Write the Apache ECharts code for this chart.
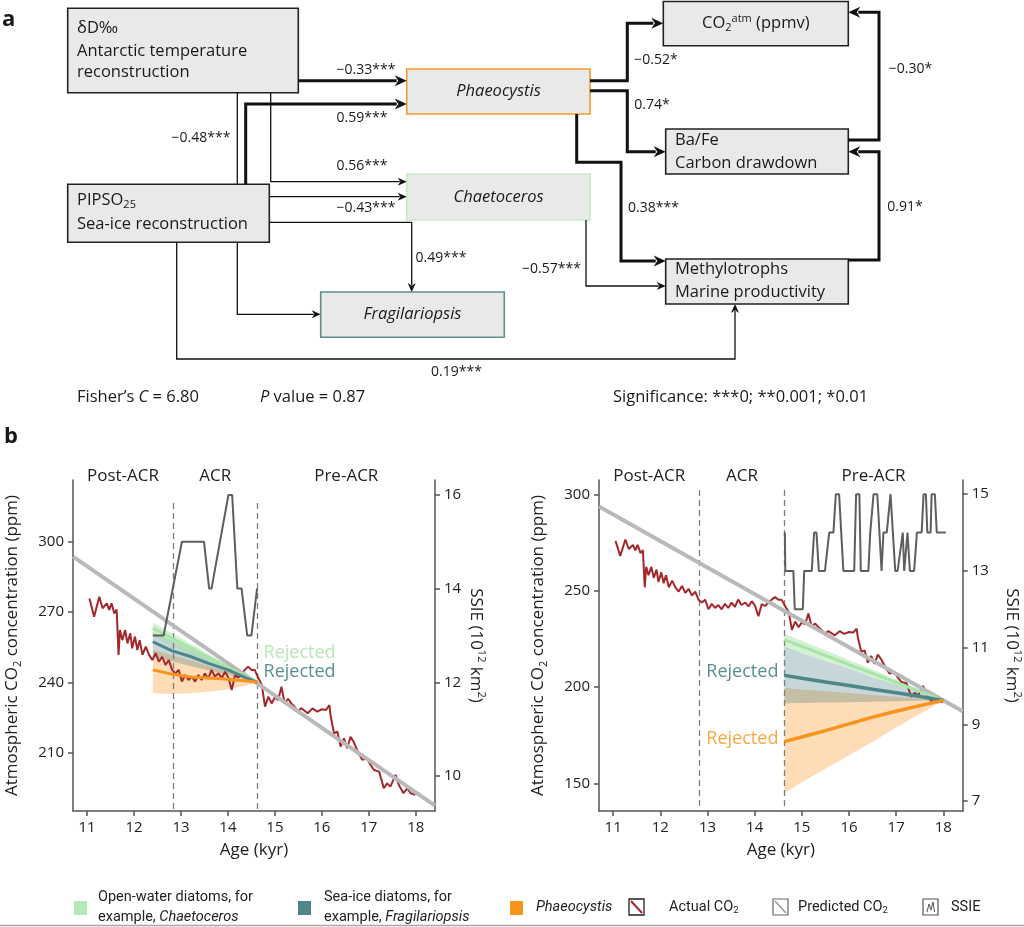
<!DOCTYPE html>
<html><head><meta charset="utf-8">
<script src="https://cdn.jsdelivr.net/npm/echarts@6/dist/echarts.min.js"></script>
<style>html,body{margin:0;padding:0;background:#fff}#c{width:1024px;height:927px}</style>
</head><body><div id="c"></div><script>
// ---------------- DATA ----------------
const ageTicks = [11, 12, 13, 14, 15, 16, 17, 18];
const co2TicksLeft = [210, 240, 270, 300];
const ssieTicksLeft = [10, 12, 14, 16];
const co2TicksRight = [150, 200, 250, 300];
const ssieTicksRight = [7, 9, 11, 13, 15];
const regionNames = ['Post-ACR', 'ACR', 'Pre-ACR'];
const regionBounds = [10.7, 12.83, 14.63, 18.41];

// actual CO2 record [age kyr, ppm]
const actualCO2 = [
 [11.05,275.8],[11.15,268],[11.26,276.5],[11.33,271.6],[11.42,273.7],[11.47,270.9],[11.52,273.7],[11.58,269.4],
 [11.63,271],[11.67,251.7],[11.70,262.3],[11.75,258],[11.81,262.3],[11.86,256.6],[11.92,260.9],[11.96,254.5],
 [12.02,259.5],[12.07,253.8],[12.12,258],[12.18,251.7],[12.25,255.2],[12.32,251.7],[12.39,249.5],[12.46,252.4],
 [12.53,248.8],[12.60,250.9],[12.67,247.4],[12.74,249.5],[12.81,245.3],[12.88,243.8],[12.95,245.3],[13.02,240.3],
 [13.09,243.1],[13.16,241],[13.23,242.5],[13.30,240.3],[13.37,243.1],[13.44,241],[13.51,243.8],[13.58,241.5],
 [13.65,245.3],[13.72,242.5],[13.80,243.8],[13.87,241.8],[13.94,244.5],[14.01,242],[14.08,236.7],[14.15,243],
 [14.22,242],[14.29,243.8],[14.36,245.3],[14.43,246.7],[14.50,245.3],[14.57,245.3],[14.65,241.7],[14.72,239],
 [14.79,229.6],[14.86,233.9],[14.93,231],[15.00,233.5],[15.07,232.5],[15.14,238.1],[15.21,231],[15.28,233],
 [15.35,231],[15.42,229.5],[15.49,227.5],[15.56,229],[15.70,226.8],[15.80,228.9],[15.90,227.5],[16.00,228.5],
 [16.09,228.2],[16.16,230.3],[16.19,225.4],[16.26,218.2],[16.33,219],[16.40,212.6],[16.47,216.1],[16.54,211.9],
 [16.61,216.8],[16.68,214.5],[16.75,211.1],[16.86,206.9],[16.96,207.6],[17.04,204.7],[17.11,202.6],[17.22,201.9],
 [17.32,194.8],[17.39,196.9],[17.46,195.5],[17.57,200.5],[17.64,196.2],[17.74,192.7],[17.82,194.8],[17.89,192.7],[17.99,192]
];
// predicted CO2 (straight regression line)
const predictedCO2 = [[10.7, 293.6], [18.41, 187.4]];

// SSIE (10^12 km2)
const ssieLeft = [[12.4,13],[12.63,13],[13.02,15],[13.49,15],[13.60,14],[13.65,14],[13.83,15],[13.87,15],
 [14.01,16],[14.09,16],[14.20,14],[14.29,14],[14.41,13],[14.50,13],[14.62,14]];
const ssieRight = [[14.64,14],[14.65,13],[14.82,13],[14.85,12],[15.02,12],[15.05,13],[15.21,13],[15.26,14],[15.31,14],
 [15.36,13],[15.49,13],[15.58,14],[15.67,14],[15.72,15],[15.79,15],[15.88,13],[16.11,13],[16.15,15],[16.22,15],
 [16.25,13],[16.41,13],[16.45,14],[16.52,15],[16.60,15],[16.69,13],[16.73,14],[16.80,14],[16.88,15],[16.98,13],
 [17.03,13],[17.14,14],[17.17,13],[17.24,14],[17.29,13],[17.38,13],[17.44,14],[17.54,14],[17.58,15],[17.63,15],
 [17.66,14],[17.73,14],[17.75,15],[17.82,15],[17.86,14],[18.05,14]];

// model predictions, left panel (post-ACR scenario)
const leftModelAge = [12.4, 12.8, 13.2, 13.6, 14.0, 14.4, 14.63];
const openLineL = [263, 258.9, 254.8, 250.6, 246.4, 242.2, 240];
const openHiL   = [265.5, 261.1, 256.5, 252, 247.5, 243, 240];
const openLoL   = [259.5, 255.8, 252, 248.2, 244.5, 241.4, 240];
const seaLineL  = [257.3, 253.5, 251, 248, 245.3, 241.8, 240];
const seaHiL    = [261.5, 258, 254, 250, 246.3, 242.3, 240];
const seaLoL    = [251, 249, 247, 245, 243.3, 241, 240];
const phaeoLineL= [245.3, 243.5, 242.3, 241.8, 241.3, 240.6, 240];
const phaeoHiL  = [254, 251.5, 249.5, 247, 244.5, 241.5, 240];
const phaeoLoL  = [235.3, 235, 235.3, 236, 237, 238.6, 240];

// model predictions, right panel (pre-ACR scenario)
const rightModelAge = [14.63, 15, 15.5, 16, 16.5, 17, 17.5, 18];
const openLineR = [224.4, 221, 216.3, 211.6, 207, 202.3, 197.7, 193];
const openHiR   = [227.5, 224, 219, 214, 209, 204, 198.5, 193];
const openLoR   = [220, 217.5, 213.5, 209.5, 205, 200.5, 197, 193];
const seaLineR  = [206, 204.5, 202.6, 200.7, 198.8, 197, 195, 193];
const seaHiR    = [221, 217.5, 213.5, 209.5, 205, 201, 197, 193];
const seaLoR    = [191.5, 191.7, 191.9, 192.1, 192.3, 192.5, 192.8, 193];
const phaeoLineR= [171.6, 174, 177.3, 180.8, 184.3, 187.4, 190.3, 193];
const phaeoHiR  = [199.5, 198.7, 197.8, 196.8, 195.8, 194.9, 193.9, 193];
const phaeoLoR  = [145, 150.5, 157.5, 164.5, 171.5, 179, 186, 193];

// ---------------- STYLE ----------------
const FONT = '"Open Sans", "Noto Sans", sans-serif';
const LFONT = 'Roboto, sans-serif';
const C = {
  red: '#a3282c', pred: '#b9b9b9', ssie: '#5e5e5e',
  green: '#a8e4a8', teal: '#4c8688', orange: '#f7931e',
  greenBand: 'rgba(150,225,150,0.42)', tealBand: 'rgba(70,120,130,0.30)', orangeBand: 'rgba(252,178,90,0.45)'
};
const ageMin = 10.7, ageMax = 18.41;

const pairs = (xs, ys) => xs.map((x, i) => [x, ys[i]]);
const tri = (xs, lo, hi) => xs.map((x, i) => [x, lo[i], hi[i]]);

function bandSeries(name, gi, yi, rows, color, z) {
  return {
    name, type: 'custom', xAxisIndex: gi, yAxisIndex: yi, z, silent: true,
    data: rows, encode: { x: 0, y: [1, 2] },
    renderItem: (params, api) => {
      if (params.dataIndex !== 0) return;
      const top = rows.map(r => api.coord([r[0], r[2]]));
      const bot = rows.map(r => api.coord([r[0], r[1]])).reverse();
      return { type: 'polygon', shape: { points: top.concat(bot) }, style: { fill: color } };
    }
  };
}
function lineSeries(name, gi, yi, data, color, width, z, extra) {
  return Object.assign({
    name, type: 'line', xAxisIndex: gi, yAxisIndex: yi, data, showSymbol: false, symbol: 'none',
    lineStyle: { color, width }, itemStyle: { color }, z, silent: true, animation: false
  }, extra || {});
}
// "Rejected" tag anchored on a model point
function rejMark(x, y, pos, color, offset) {
  return { markPoint: { silent: true, symbol: 'circle', symbolSize: 0,
    data: [{ coord: [x, y], value: 0 }],
    label: { show: true, position: pos, distance: 6, offset, formatter: 'Rejected',
      fontSize: 18, fontFamily: FONT, color } } };
}

function xAxisCfg(gi) {
  return {
    gridIndex: gi, type: 'value', min: ageMin, max: ageMax,
    name: 'Age (kyr)', nameLocation: 'middle', nameGap: 31,
    nameTextStyle: { fontSize: 17, color: '#222', fontFamily: FONT },
    axisLine: { onZero: false, lineStyle: { color: '#555', width: 1.5 } },
    axisTick: { show: true, customValues: ageTicks, length: 5, lineStyle: { color: '#555', width: 1.5 } },
    axisLabel: { customValues: ageTicks, fontSize: 15, color: '#222', margin: 9, fontFamily: FONT },
    splitLine: { show: false }
  };
}
function yAxisCfg(gi, pos, min, max, ticks, name, nameGap, rot) {
  return {
    gridIndex: gi, type: 'value', position: pos, min, max,
    name, nameLocation: 'middle', nameGap, nameRotate: rot,
    nameTextStyle: { fontSize: 17, color: '#222', fontFamily: FONT, lineHeight: 22,
      rich: { s: { fontSize: 11, lineHeight: 11, verticalAlign: 'bottom', fontFamily: FONT, color: '#222' },
              p: { fontSize: 11, lineHeight: 11, verticalAlign: 'top', fontFamily: FONT, color: '#222' } } },
    axisLine: { show: true, onZero: false, lineStyle: { color: '#555', width: 1.5 } },
    axisTick: { show: true, customValues: ticks, length: 5, lineStyle: { color: '#555', width: 1.5 } },
    axisLabel: { customValues: ticks, fontSize: 15, color: '#222', margin: 9, fontFamily: FONT },
    splitLine: { show: false }
  };
}

const co2Name = 'Atmospheric CO{s|2} concentration (ppm)';
const ssieName = 'SSIE (10{p|12} km{p|2})';

function regionMarks(dashTop, yBottom) {
  return {
    markArea: {
      silent: true, itemStyle: { color: 'rgba(0,0,0,0)' },
      label: { show: true, position: 'top', distance: -5, fontSize: 17, color: '#222', fontFamily: FONT },
      data: regionNames.map((n, i) => [{ name: n, xAxis: regionBounds[i] }, { xAxis: regionBounds[i + 1] }])
    },
    markLine: {
      silent: true, symbol: 'none', label: { show: false },
      lineStyle: { color: '#7d7d7d', width: 1.3, type: [6, 4] },
      data: [1, 2].map(i => [{ coord: [regionBounds[i], dashTop] }, { coord: [regionBounds[i], yBottom] }])
    }
  };
}

const nL = leftModelAge.length - 1;
const series = [
  // ---- left panel ----
  bandSeries('Phaeocystis band L', 0, 0, tri(leftModelAge, phaeoLoL, phaeoHiL), C.orangeBand, 2),
  bandSeries('Sea-ice band L', 0, 0, tri(leftModelAge, seaLoL, seaHiL), C.tealBand, 3),
  bandSeries('Open-water band L', 0, 0, tri(leftModelAge, openLoL, openHiL), C.greenBand, 4),
  lineSeries('Actual CO2 L', 0, 0, actualCO2, C.red, 2, 5, regionMarks(316.5, 185.1)),
  lineSeries('Predicted CO2 L', 0, 0, predictedCO2, C.pred, 4, 6),
  lineSeries('Open-water L', 0, 0, pairs(leftModelAge, openLineL), C.green, 3, 7,
    rejMark(leftModelAge[nL], openLineL[nL], 'right', '#b8e8b8', [0, -29])),
  lineSeries('Sea-ice L', 0, 0, pairs(leftModelAge, seaLineL), C.teal, 3, 7,
    rejMark(leftModelAge[nL], seaLineL[nL], 'right', '#5a8f91', [0, -10])),
  lineSeries('Phaeocystis L', 0, 0, pairs(leftModelAge, phaeoLineL), C.orange, 3, 7),
  lineSeries('SSIE L', 0, 1, ssieLeft, C.ssie, 2, 8),
  // ---- right panel ----
  bandSeries('Phaeocystis band R', 1, 2, tri(rightModelAge, phaeoLoR, phaeoHiR), C.orangeBand, 2),
  bandSeries('Sea-ice band R', 1, 2, tri(rightModelAge, seaLoR, seaHiR), C.tealBand, 3),
  bandSeries('Open-water band R', 1, 2, tri(rightModelAge, openLoR, openHiR), C.greenBand, 4),
  lineSeries('Actual CO2 R', 1, 2, actualCO2, C.red, 2, 5, regionMarks(302.2, 135.6)),
  lineSeries('Predicted CO2 R', 1, 2, predictedCO2, C.pred, 4, 6),
  lineSeries('Open-water R', 1, 2, pairs(rightModelAge, openLineR), C.green, 3, 7),
  lineSeries('Sea-ice R', 1, 2, pairs(rightModelAge, seaLineR), C.teal, 3.5, 7,
    rejMark(rightModelAge[0], seaLineR[0], 'left', '#5a8f91', [0, -3])),
  lineSeries('Phaeocystis R', 1, 2, pairs(rightModelAge, phaeoLineR), C.orange, 3.5, 7,
    rejMark(rightModelAge[0], phaeoLineR[0], 'left', '#f5a940', [0, -3])),
  lineSeries('SSIE R', 1, 3, ssieRight, C.ssie, 2, 8)
];

// ---------------- DIAGRAM (panel a) ----------------
const subRich = {
  s: { fontSize: 11, lineHeight: 11, verticalAlign: 'bottom', fontFamily: FONT, fill: '#1a1a1a' },
  p: { fontSize: 11, lineHeight: 11, verticalAlign: 'top', fontFamily: FONT, fill: '#1a1a1a' },
  i: { fontStyle: 'italic', fontSize: 16.5, fontFamily: FONT, fill: '#1a1a1a' }
};
function txt(x, y, text, o) {
  return { type: 'text', x, y, z: 20, silent: true,
    style: Object.assign({ text, fill: '#1a1a1a', fontSize: 16.5, fontFamily: FONT,
      align: 'left', verticalAlign: 'middle', lineHeight: 20, rich: subRich }, o || {}) };
}
function box(x1, y1, x2, y2, stroke) {
  return { type: 'rect', z: 10, silent: true, shape: { x: x1, y: y1, width: x2 - x1, height: y2 - y1 },
    style: { fill: '#e9e9e9', stroke: stroke || '#222', lineWidth: 1.6 } };
}
function conn(pts, thick, arrow) {
  const w = thick ? 3 : 1.3;
  const p = pts.map(q => q.slice());
  const out = [];
  if (arrow !== false) {
    const n = p.length, x2 = p[n - 1][0], y2 = p[n - 1][1], x1 = p[n - 2][0], y1 = p[n - 2][1];
    const L = Math.hypot(x2 - x1, y2 - y1), ux = (x2 - x1) / L, uy = (y2 - y1) / L;
    const al = thick ? 12 : 9, ah = thick ? 5.5 : 4;
    const bx = x2 - ux * al, by = y2 - uy * al;
    out.push({ type: 'polygon', z: 15, silent: true,
      shape: { points: [[x2, y2], [bx - uy * ah, by + ux * ah], [x2 - ux * al * 0.7, y2 - uy * al * 0.7], [bx + uy * ah, by - ux * ah]] },
      style: { fill: '#111' } });
    p[n - 1] = [x2 - ux * (al - 2), y2 - uy * (al - 2)];
  }
  out.unshift({ type: 'polyline', z: 14, silent: true, shape: { points: p },
    style: { stroke: '#111', lineWidth: w, fill: null, lineJoin: 'miter' } });
  return out;
}

const g = [];
g.push(txt(2, 20, 'a', { fontWeight: 'bold', fontSize: 22 }));
g.push(txt(4, 437, 'b', { fontWeight: 'bold', fontSize: 22 }));
// boxes
g.push(box(67.7, 8.3, 298.3, 92.7));
g.push(box(406.7, 69, 590, 114, '#f39a2c'));
g.push(box(406.7, 174, 590, 220, '#c5ebc5'));
g.push(box(67.7, 184.3, 269.3, 242.3));
g.push(box(320.7, 292, 504.3, 337.3, '#5e8f8f'));
g.push(box(663.3, 1.5, 848.3, 45.7));
g.push(box(665.7, 129, 848.3, 174));
g.push(box(665.7, 259, 848.3, 304));
// box texts
g.push(txt(77, 28, 'δD‰'));
g.push(txt(77, 51.5, 'Antarctic temperature'));
g.push(txt(77, 72.5, 'reconstruction'));
g.push(txt(498.5, 91.5, 'Phaeocystis', { align: 'center', fontStyle: 'italic' }));
g.push(txt(498.5, 197, 'Chaetoceros', { align: 'center', fontStyle: 'italic' }));
g.push(txt(77, 200, 'PIPSO{s|25}'));
g.push(txt(77, 224.5, 'Sea-ice reconstruction'));
g.push(txt(412.5, 314.5, 'Fragilariopsis', { align: 'center', fontStyle: 'italic' }));
g.push(txt(755.8, 23.5, 'CO{s|2}{p|atm} (ppmv)', { align: 'center' }));
g.push(txt(675, 140, 'Ba/Fe'));
g.push(txt(675, 163, 'Carbon drawdown'));
g.push(txt(675, 269, 'Methylotrophs'));
g.push(txt(675, 292.5, 'Marine productivity'));
// connectors
[
  [[[298.3, 80.7], [406.7, 80.7]], true],
  [[[245.7, 184.3], [245.7, 104], [406.7, 104]], true],
  [[[237.3, 92.7], [237.3, 184.3]], false, false],
  [[[270.7, 92.7], [270.7, 181.7], [406.7, 181.7]], false],
  [[[269.3, 196.7], [406.7, 196.7]], false],
  [[[269.3, 222.3], [411.7, 222.3], [411.7, 292]], false],
  [[[237.3, 242.3], [237.3, 314.3], [320.7, 314.3]], false],
  [[[176.7, 242.3], [176.7, 359], [735, 359], [735, 304]], false],
  [[[590, 80.7], [627.3, 80.7], [627.3, 23.3], [663.3, 23.3]], true],
  [[[590, 90.7], [627.3, 90.7], [627.3, 151.7], [665.7, 151.7]], true],
  [[[576.7, 114], [576.7, 162.3], [621, 162.3], [621, 261], [665.7, 261]], true],
  [[[586, 220], [586, 286], [665.7, 286]], false],
  [[[848.3, 140], [879, 140], [879, 12.3], [848.3, 12.3]], true],
  [[[848.3, 260], [879, 260], [879, 151.7], [848.3, 151.7]], true]
].forEach(c => conn(c[0], c[1], c[2]).forEach(e => g.push(e)));
// path coefficients
[
  [366, 70, '−0.33***'], [362, 118.5, '0.59***'], [201, 138.5, '−0.48***'], [362, 166, '0.56***'],
  [366, 208.5, '−0.43***'], [441, 258.5, '0.49***'], [456.5, 372, '0.19***'], [656, 60, '−0.52*'],
  [652, 105, '0.74*'], [653.5, 208.5, '0.38***'], [551.5, 269.5, '−0.57***'], [910.5, 69.5, '−0.30*'],
  [905, 207, '0.91*']
].forEach(l => g.push(txt(l[0], l[1], l[2], { align: 'center', fontSize: 14 })));
g.push(txt(77, 397, 'Fisher’s {i|C} = 6.80'));
g.push(txt(260, 397, '{i|P} value = 0.87'));
g.push(txt(613, 397, 'Significance: ***0; **0.001; *0.01'));

// ---------------- LEGEND (bottom) ----------------
const legRich = {
  i: { fontStyle: 'italic', fontFamily: LFONT, fontSize: 14.5, fill: '#222' },
  s: { fontSize: 9.5, lineHeight: 10, verticalAlign: 'bottom', fontFamily: LFONT, fill: '#222' }
};
function ltxt(x, y, text, o) {
  return txt(x, y, text, Object.assign({ fontFamily: LFONT, fontSize: 14.5, fill: '#222', rich: legRich, lineHeight: 18 }, o || {}));
}
function sq(x, color) {
  return { type: 'rect', z: 20, silent: true, shape: { x, y: 901, width: 13, height: 14 }, style: { fill: color } };
}
g.push(sq(74, '#b5eab5'));
g.push(ltxt(98, 897, 'Open-water diatoms, for'));
g.push(ltxt(98, 917, 'example, {i|Chaetoceros}'));
g.push(sq(298, '#4f8787'));
g.push(ltxt(324, 897, 'Sea-ice diatoms, for'));
g.push(ltxt(324, 917, 'example, {i|Fragilariopsis}'));
g.push(sq(510, '#f7941d'));
g.push(ltxt(536, 907, 'Phaeocystis', { fontStyle: 'italic' }));
g.push({ type: 'rect', z: 20, silent: true, shape: { x: 629, y: 899, width: 15, height: 16 }, style: { fill: 'none', stroke: '#222', lineWidth: 1.3 } });
g.push({ type: 'line', z: 21, silent: true, shape: { x1: 631, y1: 901, x2: 642, y2: 913 }, style: { stroke: C.red, lineWidth: 2 } });
g.push(ltxt(669, 907, 'Actual CO{s|2}'));
g.push({ type: 'rect', z: 20, silent: true, shape: { x: 773, y: 899, width: 15, height: 16 }, style: { fill: 'none', stroke: '#666', lineWidth: 1.2 } });
g.push({ type: 'line', z: 21, silent: true, shape: { x1: 775, y1: 901, x2: 786, y2: 913 }, style: { stroke: '#999', lineWidth: 1.5 } });
g.push(ltxt(798, 907, 'Predicted CO{s|2}'));
g.push({ type: 'rect', z: 20, silent: true, shape: { x: 923, y: 899, width: 15, height: 16 }, style: { fill: 'none', stroke: '#555', lineWidth: 1.2 } });
g.push({ type: 'polyline', z: 21, silent: true, shape: { points: [[927, 912], [929, 904], [931, 910], [933, 902], [934.5, 912]] }, style: { stroke: '#555', lineWidth: 1, fill: null } });
g.push(ltxt(951, 907, 'SSIE'));
g.push({ type: 'line', z: 20, silent: true, shape: { x1: 0, y1: 925.5, x2: 1024, y2: 925.5 }, style: { stroke: '#a8a8a8', lineWidth: 1.5 } });

// ---------------- CHART ----------------
const chart = echarts.init(document.getElementById('c'), null, { renderer: 'canvas' });
chart.setOption({
  animation: false,
  backgroundColor: '#fff',
  textStyle: { fontFamily: FONT },
  grid: [
    { left: 70, top: 480, width: 365, height: 331 },
    { left: 599, top: 480, width: 363.7, height: 331 }
  ],
  xAxis: [xAxisCfg(0), xAxisCfg(1)],
  yAxis: [
    yAxisCfg(0, 'left', 185.1, 326.3, co2TicksLeft, co2Name, 50, 90),
    yAxisCfg(0, 'right', 9.25, 16.32, ssieTicksLeft, ssieName, 30, -90),
    yAxisCfg(1, 'left', 135.6, 307.4, co2TicksRight, co2Name, 50, 90),
    yAxisCfg(1, 'right', 6.74, 15.37, ssieTicksRight, ssieName, 38, -90)
  ],
  series,
  graphic: g
});
</script></body></html>
